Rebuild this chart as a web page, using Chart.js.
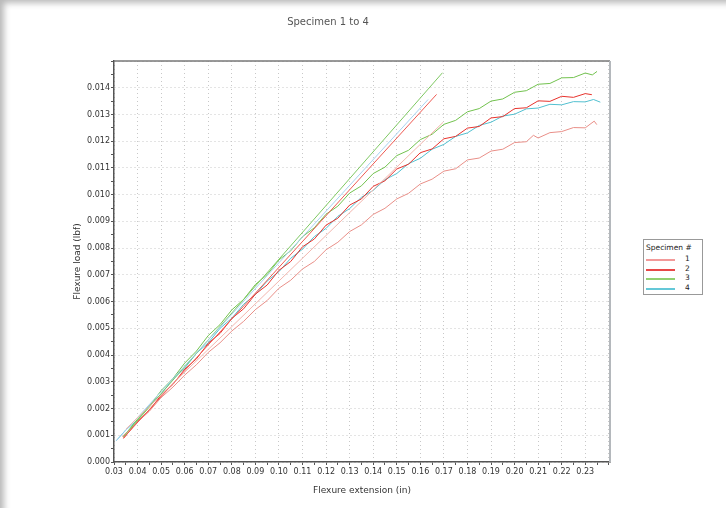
<!DOCTYPE html>
<html>
<head>
<meta charset="utf-8">
<script src="https://cdn.jsdelivr.net/npm/chart.js@4"></script>
<style>
  html, body { margin: 0; padding: 0; background: #fff; }
  #wrap {
    position: relative; width: 726px; height: 508px; overflow: hidden;
    box-shadow: inset 6px 5px 6px -2px rgba(0,0,0,0.28);
    font-family: "DejaVu Sans", Verdana, sans-serif;
  }
  #c { position: absolute; left: 0; top: 0; }
  #title {
    position: absolute; left: 0; top: 16px; width: 656px;
    text-align: center; font-size: 10px; color: #555;
  }
  #legend {
    position: absolute; left: 643px; top: 239px; width: 58px; height: 54px;
    border: 1px solid #999; background: #fff; font-size: 7.5px; color: #222;
  }
  #legend .ttl { position: absolute; left: 2px; top: 3px; white-space: nowrap; }
  #legend .row { position: absolute; left: 2px; height: 9px; width: 54px; }
  #legend .ln { position: absolute; left: 0; top: 4px; width: 29px; height: 2px; }
  #legend .lb { position: absolute; left: 39px; top: -1px; }
</style>
</head>
<body>
<div id="wrap">
  <canvas id="c" width="726" height="508"></canvas>
  <div id="title">Specimen 1 to 4</div>
  <div id="legend"></div>
</div>
<script>
'use strict';

const TITLE = 'Specimen 1 to 4';
const X_TITLE = 'Flexure extension (in)';
const Y_TITLE = 'Flexure load (lbf)';
const LEGEND_TITLE = 'Specimen #';
const SPECIMENS = ['1', '2', '3', '4'];

const X_MIN = 0.03, X_MAX = 0.2405, X_STEP = 0.005;
const Y_MIN = 0, Y_MAX = 0.015, Y_STEP = 0.0005;

// specimen 1 (salmon)
const S1_X = [0.0335, 0.040, 0.045, 0.050, 0.055, 0.060, 0.065, 0.070, 0.075, 0.080,
  0.085, 0.090, 0.095, 0.100, 0.105, 0.110, 0.115, 0.120, 0.125, 0.130,
  0.135, 0.140, 0.145, 0.150, 0.155, 0.160, 0.165, 0.170, 0.175, 0.180,
  0.185, 0.190, 0.195, 0.200, 0.205, 0.208, 0.210, 0.215, 0.220, 0.225,
  0.230, 0.2338, 0.2349];
const S1_Y = [0.00095, 0.00150, 0.00190, 0.00241, 0.00280, 0.00325, 0.00364, 0.00410, 0.00446, 0.00490,
  0.00526, 0.00570, 0.00604, 0.00650, 0.00680, 0.00722, 0.00750, 0.00794, 0.00822, 0.00862,
  0.00887, 0.00926, 0.00949, 0.00984, 0.01005, 0.01040, 0.01058, 0.01088, 0.01097, 0.01130,
  0.01137, 0.01163, 0.01170, 0.01195, 0.01198, 0.01222, 0.01212, 0.01232, 0.01236, 0.01251,
  0.01250, 0.01275, 0.01262];

// specimen 2 (red)
const S2_X = [0.034, 0.040, 0.045, 0.050, 0.055, 0.060, 0.065, 0.070, 0.075, 0.080,
  0.085, 0.090, 0.095, 0.100, 0.105, 0.110, 0.115, 0.120, 0.125, 0.130,
  0.135, 0.140, 0.145, 0.150, 0.155, 0.160, 0.165, 0.170, 0.175, 0.180,
  0.185, 0.190, 0.195, 0.200, 0.205, 0.210, 0.215, 0.220, 0.225, 0.230, 0.2328];
const S2_Y = [0.00088, 0.00152, 0.00193, 0.00250, 0.00290, 0.00347, 0.00386, 0.00444, 0.00481, 0.00537,
  0.00573, 0.00628, 0.00662, 0.00717, 0.00750, 0.00805, 0.00834, 0.00886, 0.00912, 0.00961,
  0.00984, 0.01031, 0.01052, 0.01096, 0.01114, 0.01157, 0.01171, 0.01209, 0.01218, 0.01249,
  0.01255, 0.01287, 0.01292, 0.01322, 0.01325, 0.01351, 0.01349, 0.01368, 0.01364, 0.01378, 0.01374];

// specimen 3 (green)
const S3_X = [0.034, 0.040, 0.045, 0.050, 0.055, 0.060, 0.065, 0.070, 0.075, 0.080,
  0.085, 0.090, 0.095, 0.100, 0.105, 0.110, 0.115, 0.120, 0.125, 0.130,
  0.135, 0.140, 0.145, 0.150, 0.155, 0.160, 0.165, 0.170, 0.175, 0.180,
  0.185, 0.190, 0.195, 0.200, 0.205, 0.210, 0.215, 0.220, 0.225, 0.230, 0.233, 0.235];
const S3_Y = [0.00095, 0.00160, 0.00208, 0.00267, 0.00312, 0.00370, 0.00415, 0.00473, 0.00514, 0.00569,
  0.00608, 0.00664, 0.00701, 0.00756, 0.00790, 0.00843, 0.00876, 0.00927, 0.00957, 0.01006,
  0.01033, 0.01079, 0.01103, 0.01146, 0.01166, 0.01206, 0.01226, 0.01263, 0.01278, 0.01310,
  0.01322, 0.01350, 0.01358, 0.01383, 0.01389, 0.01413, 0.01416, 0.01437, 0.01438, 0.01455, 0.01448, 0.01461];

// specimen 4 (cyan)
const S4_X = [0.031, 0.035, 0.040, 0.045, 0.050, 0.055, 0.060, 0.065, 0.070, 0.075,
  0.080, 0.085, 0.090, 0.095, 0.100, 0.105, 0.110, 0.115, 0.120, 0.125,
  0.130, 0.135, 0.140, 0.145, 0.150, 0.155, 0.160, 0.165, 0.170, 0.175,
  0.180, 0.185, 0.190, 0.195, 0.200, 0.205, 0.210, 0.215, 0.220, 0.225,
  0.230, 0.2335, 0.2364];
const S4_Y = [0.00080, 0.00120, 0.00157, 0.00213, 0.00254, 0.00311, 0.00351, 0.00407, 0.00446, 0.00500,
  0.00538, 0.00590, 0.00626, 0.00677, 0.00712, 0.00762, 0.00796, 0.00843, 0.00874, 0.00919,
  0.00948, 0.00990, 0.01016, 0.01056, 0.01079, 0.01116, 0.01136, 0.01170, 0.01188, 0.01218,
  0.01231, 0.01259, 0.01271, 0.01294, 0.01301, 0.01321, 0.01324, 0.01338, 0.01336, 0.01348,
  0.01347, 0.01356, 0.01346];

// modulus (straight) fit lines: [start, end]
const FIT1_X = [0.035, 0.1697], FIT1_Y = [0.00123, 0.01271];
const FIT2_X = [0.034, 0.1669], FIT2_Y = [0.00090, 0.01375];
const FIT3_X = [0.034, 0.1694], FIT3_Y = [0.00095, 0.01456];
const FIT4_X = [0.031, 0.1633], FIT4_Y = [0.00080, 0.01356];

const COLORS = {
  s1: '#e98f88', s2: '#e8322c', s3: '#72c24e', s4: '#52c0d0',
  f1: '#f2b6ae', f2: '#ee5a52', f3: '#7ec862', f4: '#a6d2f0',
  l1: '#f29a9a', l2: '#e84848', l3: '#92d070', l4: '#64c8d8',
};

const FONT = 'DejaVu Sans';

function pts(xs, ys) {
  return xs.map((x, i) => ({ x, y: ys[i] }));
}

function curve(label, xs, ys, color, legendColor) {
  return { label, data: pts(xs, ys), borderColor: color, backgroundColor: color,
    borderWidth: 1, pointRadius: 0, tension: 0, fill: false, legendColor };
}

function fit(xs, ys, color) {
  return { label: '', isFit: true, data: pts(xs, ys), borderColor: color,
    borderWidth: 1, pointRadius: 0, tension: 0, fill: false };
}

const isMajorX = v => Math.round(v * 1000) % 10 === 0;
const isMajorY = v => Math.round(v * 10000) % 10 === 0;

// top + right frame of the plot box
const framePlugin = {
  id: 'frame',
  afterDraw(chart) {
    const { ctx, chartArea: a } = chart;
    ctx.save();
    ctx.strokeStyle = '#777';
    ctx.lineWidth = 1.5;
    ctx.beginPath();
    ctx.moveTo(a.left, a.top);
    ctx.lineTo(a.right, a.top);
    ctx.stroke();
    ctx.strokeStyle = '#b4b8bc';
    ctx.lineWidth = 2;
    ctx.beginPath();
    ctx.moveTo(a.right, a.top);
    ctx.lineTo(a.right, a.bottom);
    ctx.stroke();
    ctx.restore();
  }
};

const chart = new Chart(document.getElementById('c'), {
  type: 'line',
  data: {
    datasets: [
      fit(FIT1_X, FIT1_Y, COLORS.f1),
      fit(FIT4_X, FIT4_Y, COLORS.f4),
      fit(FIT2_X, FIT2_Y, COLORS.f2),
      fit(FIT3_X, FIT3_Y, COLORS.f3),
      curve(SPECIMENS[0], S1_X, S1_Y, COLORS.s1, COLORS.l1),
      curve(SPECIMENS[1], S2_X, S2_Y, COLORS.s2, COLORS.l2),
      curve(SPECIMENS[2], S3_X, S3_Y, COLORS.s3, COLORS.l3),
      curve(SPECIMENS[3], S4_X, S4_Y, COLORS.s4, COLORS.l4),
    ],
  },
  options: {
    responsive: false,
    devicePixelRatio: 1,
    animation: false,
    layout: { padding: { left: 68, right: 116, top: 61, bottom: 10 } },
    plugins: {
      legend: { display: false },
      title: { display: false },
      tooltip: { enabled: false },
    },
    scales: {
      x: {
        type: 'linear',
        min: X_MIN, max: X_MAX,
        afterFit(s) { s.height = 36; },
        border: { display: true, color: '#555', width: 1.5, dash: [1, 3] },
        grid: {
          color: c => (c.tick && isMajorX(c.tick.value) ? '#c8c8c8' : 'rgba(0,0,0,0)'),
          lineWidth: 1,
          tickColor: '#555',
          tickLength: 3,
        },
        ticks: {
          stepSize: X_STEP,
          includeBounds: false,
          autoSkip: false,
          maxRotation: 0,
          padding: 2,
          color: '#333',
          font: { family: FONT, size: 8 },
          callback: v => (isMajorX(v) && v < 0.2395 ? v.toFixed(2) : ''),
        },
        title: {
          display: true, text: X_TITLE, color: '#333',
          font: { family: FONT, size: 9 }, padding: { top: 2, bottom: 2 },
        },
      },
      y: {
        type: 'linear',
        min: Y_MIN, max: Y_MAX,
        afterFit(s) { s.width = 46; },
        border: { display: true, color: '#555', width: 1.5, dash: [1, 3] },
        grid: {
          color: c => (c.tick && isMajorY(c.tick.value) ? '#c8c8c8' : 'rgba(0,0,0,0)'),
          lineWidth: 1,
          tickColor: '#555',
          tickLength: 3,
        },
        ticks: {
          stepSize: Y_STEP,
          autoSkip: false,
          padding: 1,
          color: '#333',
          font: { family: FONT, size: 8 },
          callback: v => (isMajorY(v) && v < 0.0145 ? v.toFixed(3) : ''),
        },
        title: {
          display: true, text: Y_TITLE, color: '#333',
          font: { family: FONT, size: 9 }, padding: { top: 4, bottom: 2 },
        },
      },
    },
  },
  plugins: [framePlugin],
});

// html legend built from the curve datasets
function buildLegend() {
  const box = document.getElementById('legend');
  box.innerHTML = '';
  const t = document.createElement('div');
  t.className = 'ttl';
  t.textContent = LEGEND_TITLE;
  box.appendChild(t);
  chart.data.datasets.filter(d => !d.isFit).forEach((d, i) => {
    const row = document.createElement('div');
    row.className = 'row';
    row.style.top = (15 + i * 9.5) + 'px';
    const ln = document.createElement('div');
    ln.className = 'ln';
    ln.style.background = d.legendColor;
    const lb = document.createElement('div');
    lb.className = 'lb';
    lb.textContent = d.label;
    row.appendChild(ln);
    row.appendChild(lb);
    box.appendChild(row);
  });
}
buildLegend();
document.getElementById('title').textContent = TITLE;
</script>
</body>
</html>
